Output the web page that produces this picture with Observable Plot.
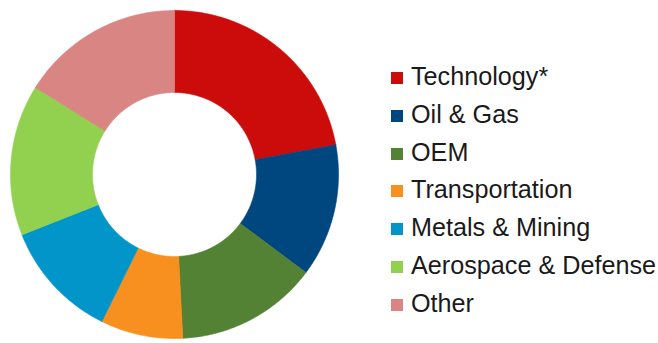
<!DOCTYPE html>
<html>
<head>
<meta charset="utf-8">
<script src="https://cdn.jsdelivr.net/npm/d3@7"></script>
<script src="https://cdn.jsdelivr.net/npm/@observablehq/plot@0.6"></script>
<style>
  html, body { margin: 0; padding: 0; background: #fff; }
  #wrap { position: relative; width: 658px; height: 343px; overflow: hidden; }
  #chart { position: absolute; left: 0; top: 0; }
  #legend { position: absolute; left: 391px; top: 61px; font-family: "Liberation Sans", Arial, sans-serif; font-size: 25.2px; color: #1a1a1a; }
  .item { position: relative; height: 37.8px; white-space: nowrap; }
  .sw { position: absolute; left: 0; top: 11px; width: 12px; height: 12px; }
  .lb { position: absolute; left: 20px; top: 0; line-height: 31px; }
</style>
</head>
<body>
<div id="wrap">
  <div id="chart"></div>
  <div id="legend"></div>
</div>
<script>
const categories = ["Technology*", "Oil & Gas", "OEM", "Transportation", "Metals & Mining", "Aerospace & Defense", "Other"];
const values = [22.1, 13.1, 14.0, 8.1, 11.7, 14.9, 16.1];
const colors = ["#CC0C0A", "#00467F", "#548235", "#F7901E", "#0195C9", "#92D050", "#D88583"];

const innerRatio = 0.5;
const arcs = d3.pie().sort(null).value(d => d.value)(categories.map((c, i) => ({category: c, value: values[i]})));

// Build polygon vertices for each slice (angles from d3.pie, clockwise from top)
const pts = [];
for (const a of arcs) {
  const n = Math.max(8, Math.ceil((a.endAngle - a.startAngle) / 0.01));
  const ring = [];
  for (let k = 0; k <= n; k++) {
    const t = a.startAngle + (a.endAngle - a.startAngle) * k / n;
    ring.push({category: a.data.category, x: Math.sin(t), y: Math.cos(t)});
  }
  for (let k = n; k >= 0; k--) {
    const t = a.startAngle + (a.endAngle - a.startAngle) * k / n;
    ring.push({category: a.data.category, x: innerRatio * Math.sin(t), y: innerRatio * Math.cos(t)});
  }
  ring.push(ring[0]);
  pts.push(...ring);
}

const W = 348, H = 343, R = 164, cx = 174, cy = 174;
const plot = Plot.plot({
  width: W,
  height: H,
  margin: 0,
  x: {domain: [-cx / R, (W - cx) / R], axis: null},
  y: {domain: [(cy - H) / R, cy / R], axis: null},
  color: {domain: categories, range: colors},
  marks: [
    Plot.line(pts, {x: "x", y: "y", z: "category", fill: "category", stroke: "category", strokeWidth: 0.6, curve: "linear-closed"})
  ]
});
document.getElementById("chart").appendChild(plot);

const legend = document.getElementById("legend");
categories.forEach((c, i) => {
  const item = document.createElement("div");
  item.className = "item";
  const sw = document.createElement("div");
  sw.className = "sw";
  sw.style.background = plot.scale("color").apply(c);
  const lb = document.createElement("div");
  lb.className = "lb";
  lb.textContent = c;
  item.appendChild(sw);
  item.appendChild(lb);
  legend.appendChild(item);
});
</script>
</body>
</html>
